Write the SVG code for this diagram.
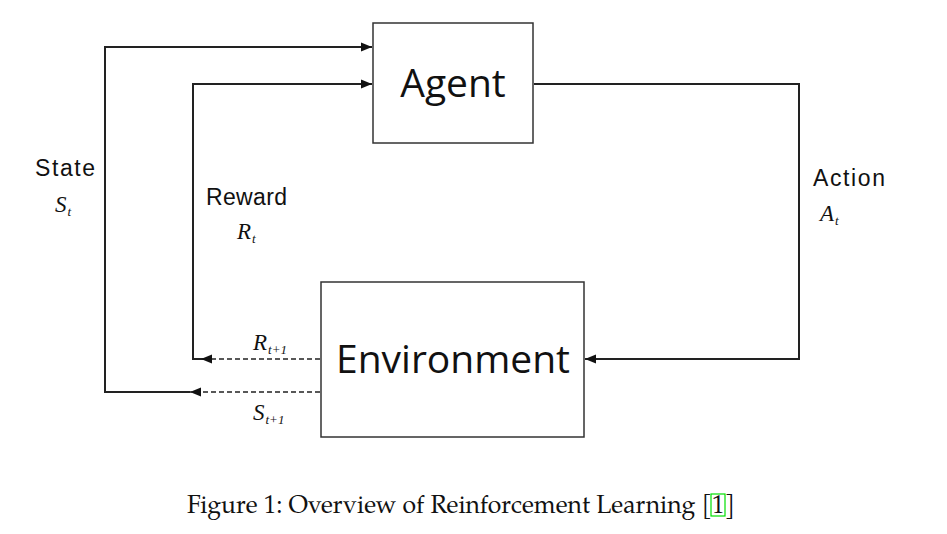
<svg xmlns="http://www.w3.org/2000/svg" width="947" height="534" viewBox="0 0 947 534">
<style>
.box{fill:#fff;stroke:#333;stroke-width:1.5}
.big{font-family:"Open Sans","Noto Sans",sans-serif;font-size:39px;fill:#111}
.lbl{font-family:"Liberation Sans",Arial,sans-serif;font-size:23px;fill:#111}
.math{font-family:"Liberation Serif","Times New Roman",serif;font-style:italic;font-size:23px;fill:#111}
.sub{font-size:13px}
.ln{fill:none;stroke:#222;stroke-width:2}
.dash{fill:none;stroke:#222;stroke-width:1.6;stroke-dasharray:5,3}
.cap{font-family:"TeX Gyre Pagella","Liberation Serif",serif;font-size:25px;fill:#111}
</style>
<defs>
<marker id="ah" viewBox="0 0 10 10" refX="10" refY="5" markerWidth="11" markerHeight="11" markerUnits="userSpaceOnUse" orient="auto">
<path d="M0,1 L10,5 L0,9 z" fill="#111"/>
</marker>
</defs>
<rect width="947" height="534" fill="#fff"/>
<g id="connectors">
<path class="ln" d="M190,392 H105 V47 H372" marker-end="url(#ah)"/>
<path class="ln" d="M210,359 H193 V84 H372" marker-end="url(#ah)"/>
<path class="ln" d="M534,84 H799 V359 H585" marker-end="url(#ah)"/>
<path class="dash" d="M320,359 H201" marker-end="url(#ah)"/>
<path class="dash" d="M320,392 H190" marker-end="url(#ah)"/>
</g>
<g id="agent">
<rect class="box" x="373" y="23" width="160" height="120"/>
<text class="big" x="453" y="97" text-anchor="middle">Agent</text>
</g>
<g id="environment">
<rect class="box" x="321" y="282" width="263" height="155"/>
<text class="big" x="453" y="373" text-anchor="middle">Environment</text>
</g>
<g id="labels">
<text class="lbl" x="35" y="176" textLength="60">State</text>
<text class="math" x="55" y="212">S<tspan class="sub" dx="1" dy="4">t</tspan></text>
<text class="lbl" x="206" y="205" textLength="81">Reward</text>
<text class="math" x="237" y="239">R<tspan class="sub" dx="1" dy="4">t</tspan></text>
<text class="lbl" x="813" y="186" textLength="72">Action</text>
<text class="math" x="820" y="221">A<tspan class="sub" dx="1" dy="4">t</tspan></text>
<text class="math" x="253" y="350">R<tspan class="sub" dx="1" dy="4">t+1</tspan></text>
<text class="math" x="253" y="420">S<tspan class="sub" dx="1" dy="4">t+1</tspan></text>
</g>
<g id="caption">
<text class="cap" x="187" y="513" textLength="548" lengthAdjust="spacingAndGlyphs">Figure 1: Overview of Reinforcement Learning [1]</text>
<rect x="711" y="494" width="14" height="22" fill="none" stroke="#00e000" stroke-width="1.2"/>
</g>
</svg>
